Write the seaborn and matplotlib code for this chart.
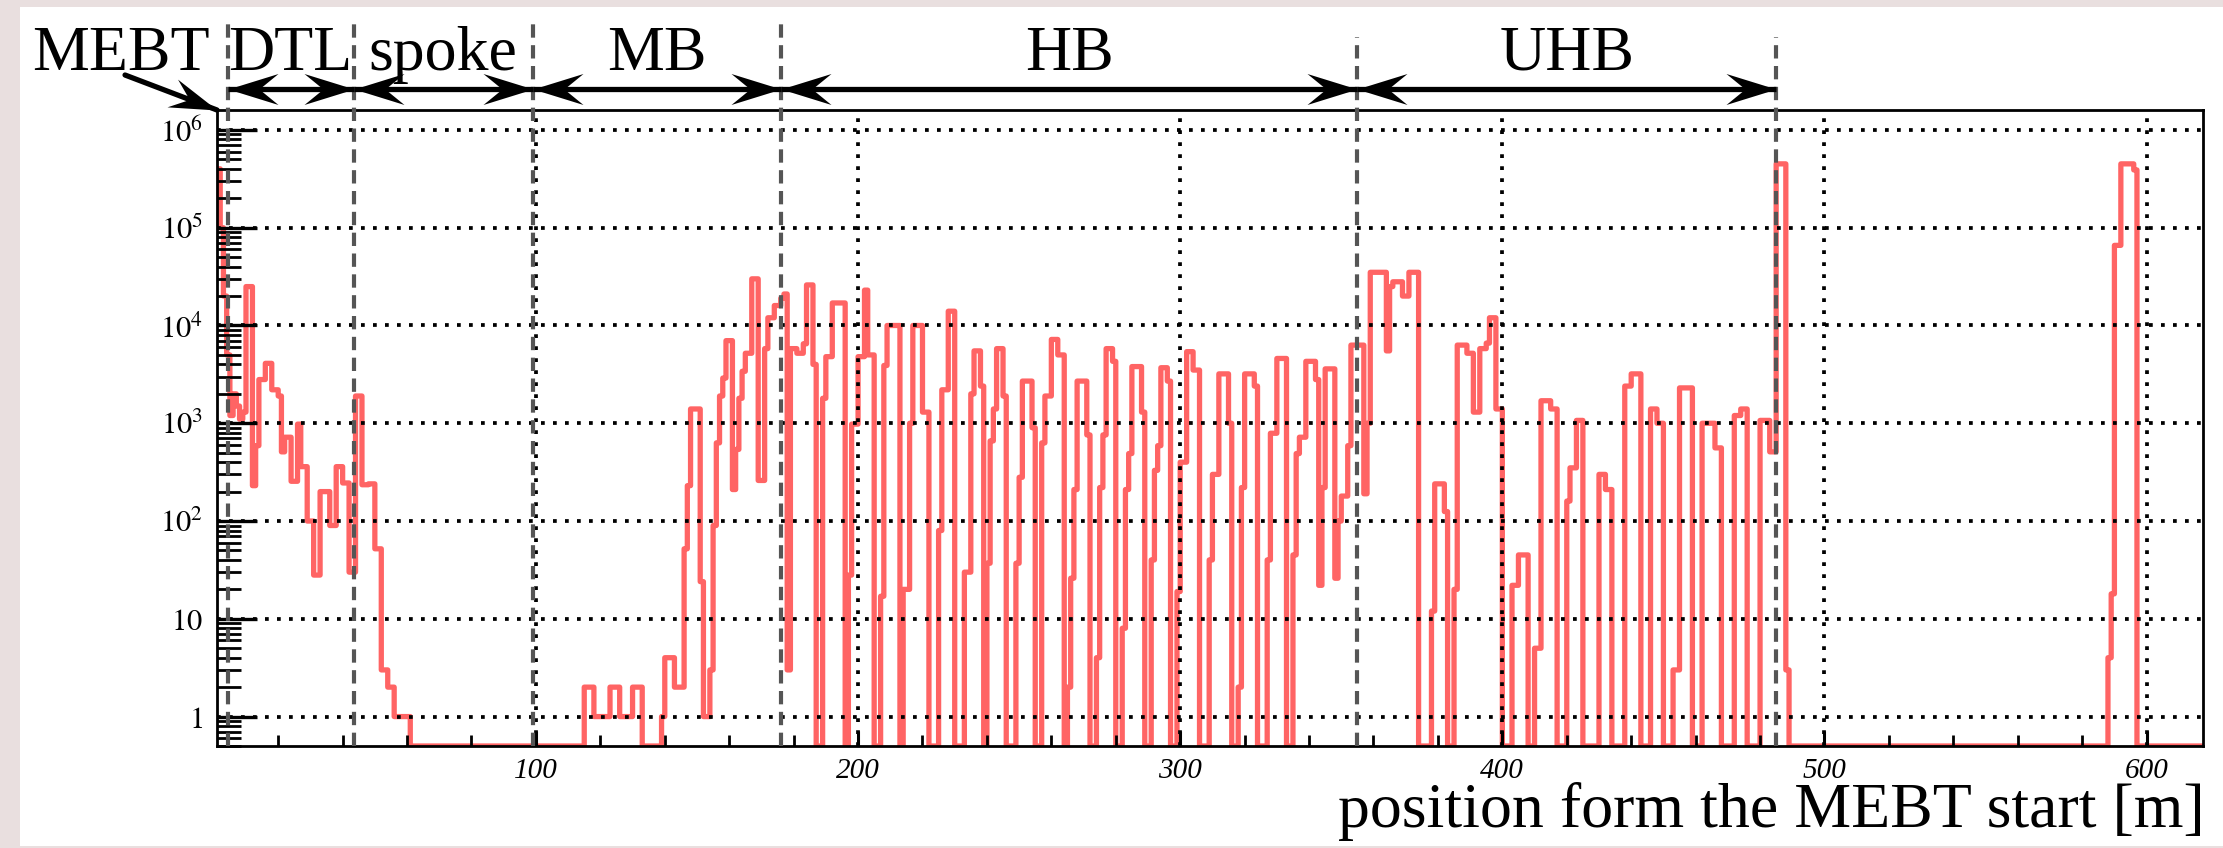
import numpy as np
import pandas as pd
import matplotlib
matplotlib.use("Agg")
import matplotlib.pyplot as plt
import matplotlib.transforms as mtransforms
from matplotlib.path import Path
from matplotlib.ticker import FixedLocator, LogLocator, MultipleLocator, NullFormatter
import seaborn as sns

# ---------------------------------------------------------------- data
# beam losses per 1 m bin along the linac (position measured from the MEBT start)
BIN_WIDTH = 1.0
N_BINS = 620

# 0 m .. 60 m : MEBT, DTL and start of the spoke section
front_start = 0
front_counts = [
    300000, 400000, 100000, 20000, 5000, 1200, 2000, 1500, 1100, 1300,
    25000, 25000, 230, 590, 2800, 2800, 4100, 4100, 2200, 2200,
    1900, 510, 720, 720, 255, 255, 980, 360, 360, 100,
    100, 28, 28, 200, 200, 200, 90, 90, 360, 360,
    245, 245, 30, 30, 1900, 1900, 235, 235, 240, 240,
    52, 52, 3, 3, 2, 2, 1, 1, 1, 1, 1,
]

# 113 m .. 489 m : MB, HB and UHB sections
linac_start = 113
linac_counts = [
    0, 0, 2, 2, 2, 1, 1, 1, 1, 1,
    2, 2, 2, 1, 1, 1, 1, 2, 2, 2,
    0, 0, 0, 0, 0, 0, 1, 4, 4, 4,
    2, 2, 2, 52, 230, 1400, 1400, 1400, 24, 1,
    1, 3, 90, 630, 1900, 2900, 7000, 7000, 210, 540,
    1800, 3400, 5200, 5200, 30000, 30000, 260, 260, 5800, 12000,
    12000, 16000, 16000, 19000, 21000, 3, 5800, 5800, 5200, 5200,
    6500, 26000, 26000, 4000, 0, 0, 1800, 4800, 4800, 17000,
    17000, 17000, 17000, 0, 28, 980, 980, 4800, 4800, 23000,
    5000, 5000, 0, 0, 17, 3900, 10000, 10000, 10000, 10000,
    0, 20, 20, 1000, 10000, 10000, 10000, 1300, 1300, 0,
    0, 0, 80, 2200, 2200, 14000, 14000, 0, 0, 0,
    30, 30, 2000, 5500, 5500, 2400, 0, 37, 660, 1400,
    5800, 5800, 1900, 0, 0, 0, 37, 280, 2700, 2700,
    2700, 900, 0, 0, 630, 1900, 1900, 7200, 7200, 5000,
    5000, 0, 2, 26, 210, 2700, 2700, 2700, 760, 0,
    0, 4, 220, 760, 5800, 5800, 4300, 0, 0, 8,
    210, 490, 3800, 3800, 3800, 1300, 0, 0, 40, 330,
    590, 3700, 3700, 2700, 0, 0, 19, 400, 400, 5400,
    5400, 3500, 3500, 0, 0, 0, 40, 300, 300, 3200,
    3200, 3200, 1000, 0, 0, 2, 220, 3200, 3200, 3200,
    2400, 0, 0, 0, 40, 790, 790, 4600, 4600, 4600,
    0, 0, 45, 490, 720, 720, 4300, 4300, 4300, 2800,
    22, 220, 3600, 3600, 3600, 26, 100, 180, 180, 590,
    6300, 6300, 6300, 6300, 190, 1000, 35000, 35000, 35000, 35000,
    35000, 5500, 25000, 28000, 28000, 28000, 20000, 20000, 35000, 35000,
    35000, 0, 0, 0, 0, 12, 240, 240, 240, 125,
    0, 0, 20, 6300, 6300, 6300, 5200, 5200, 1300, 1300,
    5800, 5800, 6600, 12000, 12000, 1400, 1400, 0, 0, 0,
    22, 22, 45, 45, 45, 0, 0, 5, 5, 1700,
    1700, 1700, 1400, 1400, 0, 0, 0, 160, 350, 350,
    1070, 1070, 0, 0, 0, 0, 0, 300, 300, 210,
    210, 0, 0, 0, 0, 2400, 2400, 3200, 3200, 3200,
    0, 0, 0, 1400, 1400, 1000, 1000, 0, 0, 0,
    3, 3, 2300, 2300, 2300, 2300, 0, 0, 0, 1000,
    1000, 1000, 1000, 560, 560, 0, 0, 0, 0, 1200,
    1200, 1400, 1400, 0, 0, 0, 0, 1070, 1070, 1070,
    510, 510, 450000, 450000, 450000, 3, 0,
]

# 588 m .. 597 m : beam dump line
dump_start = 588
dump_counts = [4, 18, 66000, 66000, 450000, 450000, 450000, 450000, 390000, 0]

# accelerating sections and their boundaries [m]
section_names = ["DTL", "spoke", "MB", "HB", "UHB"]
section_bounds = [4.3, 43.4, 99.0, 176.0, 355.0, 485.0]
x_ticks = [100, 200, 300, 400, 500, 600]
y_decades = [0, 1, 2, 3, 4, 5, 6]

# ---------------------------------------------------------------- histogram
counts = np.zeros(N_BINS)
for start, seg in ((front_start, front_counts),
                   (linac_start, linac_counts),
                   (dump_start, dump_counts)):
    counts[start:start + len(seg)] = seg
edges = np.arange(N_BINS + 1) * BIN_WIDTH

Y_MIN, Y_MAX = 0.5, 1.6e6
X_MIN, X_MAX = 1.0, 617.5
drawn = np.where(counts > 0, counts, Y_MIN)          # empty bins sit on the frame
df = pd.DataFrame({"position": edges, "losses": np.append(drawn, drawn[-1])})

# ---------------------------------------------------------------- style
sns.set_theme(style="white", rc={
    "axes.edgecolor": "black", "xtick.color": "black", "ytick.color": "black",
    "text.color": "black", "axes.labelcolor": "black",
})
plt.rcParams["font.family"] = ["Liberation Serif", "DejaVu Serif"]
plt.rcParams["mathtext.fontset"] = "stix"

W, H = 2223, 848
fig = plt.figure(figsize=(W / 100, H / 100), dpi=100)
fig.patch.set_facecolor("#e9dfdf")
panel = plt.Rectangle((20 / W, 2 / H), 1.0, 839 / H, transform=fig.transFigure,
                      facecolor="white", edgecolor="none", zorder=-10)
fig.add_artist(panel)

ax = fig.add_axes([217 / W, 102 / H, 1986 / W, 636 / H])
ax.set_zorder(1)
ax.set_yscale("log")
sns.lineplot(data=df, x="position", y="losses", drawstyle="steps-post",
             color="#ff6464", linewidth=3.8, estimator=None, sort=False,
             legend=False, ax=ax, zorder=2)

ax.set_xlim(X_MIN, X_MAX)
ax.set_ylim(Y_MIN, Y_MAX)
ax.set_xlabel("")
ax.set_ylabel("")

for sp in ax.spines.values():
    sp.set_color("black")
    sp.set_linewidth(2.0)

# ticks and italic tick labels
ax.set_xticks(x_ticks, labels=[str(t) for t in x_ticks], fontstyle="italic", fontsize=21)
ax.xaxis.set_minor_locator(MultipleLocator(20))

y_major = [10.0 ** e for e in y_decades]


def decade_label(e):
    if e == 0:
        return r"$\mathit{1}$"
    if e == 1:
        return r"$\mathit{10}$"
    return r"$\mathit{10}^{\mathit{%d}}$" % e


ax.yaxis.set_major_locator(FixedLocator(y_major))
ax.set_yticks(y_major, labels=[decade_label(e) for e in y_decades], fontsize=22)
ax.yaxis.set_minor_locator(LogLocator(base=10, subs=np.arange(2, 10), numticks=20))
ax.yaxis.set_minor_formatter(NullFormatter())
ax.set_ylim(Y_MIN, Y_MAX)

ax.tick_params(axis="x", which="major", direction="in", length=11, width=2.2,
               pad=9, top=False, bottom=True)
ax.tick_params(axis="x", which="minor", direction="in", length=8, width=2,
               top=False, bottom=True)
ax.tick_params(axis="y", which="major", direction="in", length=29, width=2.4,
               pad=10, left=True, right=False)
ax.tick_params(axis="y", which="minor", direction="in", length=17, width=2,
               left=True, right=False)

# dotted grid
ax.grid(True, which="major", color="black", linestyle=(0, (1, 2.2)), linewidth=2.7)
ax.set_axisbelow(False)

# ---------------------------------------------------------------- section annotations
blend = mtransforms.blended_transform_factory(ax.transData, ax.transAxes)
line_tops = [1.138, 1.138, 1.138, 1.138, 1.115, 1.115]
for b, top in zip(section_bounds, line_tops):
    ax.plot([b, b], [0.0, top], transform=blend, color="#555555", lw=3.0,
            linestyle=(0, (3.2, 1.8)), clip_on=False, zorder=5)


def stealth_marker(angle_deg):
    verts = np.array([(0.0, 0.0), (-1.0, 0.31), (-0.62, 0.0), (-1.0, -0.31), (0.0, 0.0)])
    verts = mtransforms.Affine2D().rotate_deg(angle_deg).transform(verts)
    codes = [Path.MOVETO, Path.LINETO, Path.LINETO, Path.LINETO, Path.CLOSEPOLY]
    return Path(verts, codes)


HEAD = 72
ARROW_Y = 1.033
LABEL_Y = 1.063
TITLE_SIZE = 46
for name, a, b in zip(section_names, section_bounds[:-1], section_bounds[1:]):
    ax.plot([a, b], [ARROW_Y, ARROW_Y], transform=blend, color="black", lw=3.8,
            clip_on=False, zorder=6, solid_capstyle="butt")
    ax.plot([a], [ARROW_Y], transform=blend, marker=stealth_marker(180), markersize=HEAD,
            color="black", markeredgewidth=0, clip_on=False, zorder=6)
    ax.plot([b], [ARROW_Y], transform=blend, marker=stealth_marker(0), markersize=HEAD,
            color="black", markeredgewidth=0, clip_on=False, zorder=6)
    ax.text((a + b) / 2, LABEL_Y, name, transform=blend, ha="center", va="baseline",
            fontsize=TITLE_SIZE, family="Liberation Serif", zorder=6)

# MEBT label with its arrow pointing at the start of the axis
mebt_xy = (-0.0463, 1.055)
ax.text(-0.0483, LABEL_Y, "MEBT", transform=ax.transAxes, ha="center", va="baseline",
        fontsize=TITLE_SIZE, family="Liberation Serif", clip_on=False)
ax.plot([mebt_xy[0], 0.0], [mebt_xy[1], 1.0], transform=ax.transAxes, color="black",
        lw=3.8, clip_on=False, zorder=6)
ang = np.degrees(np.arctan2(-35.0, 92.0))
ax.plot([0.0], [1.0], transform=ax.transAxes, marker=stealth_marker(ang), markersize=HEAD,
        color="black", markeredgewidth=0, clip_on=False, zorder=6)

# axis title
ax.text(1.001, -0.128, "position form the MEBT start [m]", transform=ax.transAxes,
        ha="right", va="baseline", fontsize=TITLE_SIZE, family="Liberation Serif")

fig.savefig("out.png", dpi=100, facecolor=fig.get_facecolor())
